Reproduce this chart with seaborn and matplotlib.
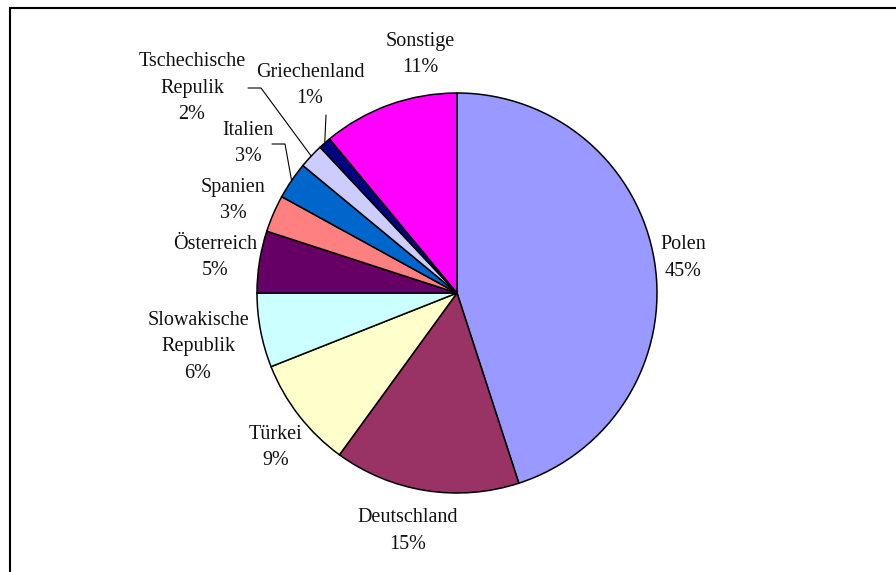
import matplotlib
matplotlib.use("Agg")
import matplotlib.pyplot as plt
from matplotlib.patches import Rectangle
import numpy as np
import seaborn as sns

sns.set_style("white")
plt.rcParams['font.family'] = ['Liberation Serif', 'DejaVu Serif']

# Herkunftsländer, Anteile in %
countries = ["Polen", "Deutschland", "Türkei", "Slowakische\nRepublik", "Österreich",
             "Spanien", "Italien", "Tschechische\nRepulik", "Griechenland", "Sonstige"]
shares = [45, 15, 9, 6, 5, 3, 3, 2, 1, 11]
colors = ["#9999FF", "#993366", "#FFFFCC", "#CCFFFF", "#660066",
          "#FF8080", "#0066CC", "#CCCCFF", "#000080", "#FF00FF"]

# label block centres, in pie radius units relative to the centre
label_pos = [(1.13, 0.175), (-0.245, -1.19), (-0.905, -0.773), (-1.295, -0.27),
             (-1.21, 0.178), (-1.12, 0.463), (-1.045, 0.748), (-1.325, 1.025),
             (-0.735, 1.038), (-0.185, 1.193)]
# leader lines: index -> (start, elbow)
leaders = {6: [(-0.925, 0.745), (-0.86, 0.745)],
           7: [(-1.045, 1.025), (-0.98, 1.025)],
           8: [(-0.655, 0.89)]}

W, H, R = 896, 572, 200
cx, cy = 457, H - 293

fig = plt.figure(figsize=(W / 100, H / 100), dpi=100)
ax = fig.add_axes([0, 0, 1, 1])
palette = sns.color_palette(colors)
ax.pie(shares, colors=palette, startangle=90, counterclock=False, radius=1,
       wedgeprops=dict(edgecolor="black", linewidth=1.1))

total = sum(shares)
cum = np.cumsum(shares)
for i, (name, val) in enumerate(zip(countries, shares)):
    lx, ly = label_pos[i]
    ax.text(lx, ly, "{}\n{}%".format(name, val), ha="center", va="center",
            fontsize=14.5, linespacing=1.55, color="#111111")
    if i in leaders:
        theta = np.deg2rad(90 - 360 * (cum[i] - val / 2) / total)
        pts = leaders[i] + [(np.cos(theta), np.sin(theta))]
        xs, ys = zip(*pts)
        ax.plot(xs, ys, color="black", linewidth=0.8)

ax.set_aspect("auto")
ax.set_xlim(-cx / R, (W - cx) / R)
ax.set_ylim(-cy / R, (H - cy) / R)
ax.axis("off")

fig.add_artist(Rectangle((9.5 / W, -0.5), 2, 1 - 7.5 / H + 0.5, transform=fig.transFigure,
                         fill=False, edgecolor="black", linewidth=1.5))

fig.savefig("out.png", dpi=100)
